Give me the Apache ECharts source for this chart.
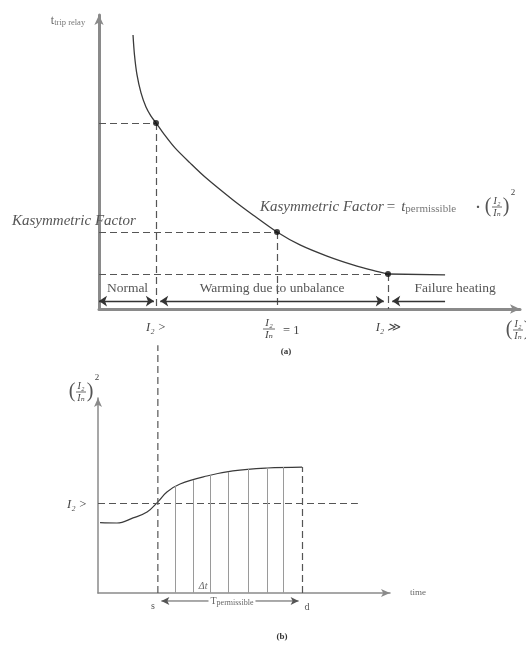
<!DOCTYPE html>
<html><head><meta charset="utf-8">
<script src="https://cdn.jsdelivr.net/npm/echarts@6/dist/echarts.min.js"></script>
<style>html,body{margin:0;padding:0;background:#fff}#c{width:526px;height:645px}</style>
</head><body><div id="c"></div><script>
// ---------- (a) trip time vs (I2/IN) ----------
const curveA = [[0.808,9.32],[0.843,8.64],[0.903,7.96],[0.998,7.35],[1.116,6.87],[1.235,6.56],[1.354,6.33],[1.544,5.95],[1.805,5.48],[2.162,4.97],[2.518,4.49],[3.183,3.71],[3.658,3.20],[4.228,2.62],[4.774,2.18],[5.416,1.80],[6.033,1.50],[6.508,1.31],[6.865,1.19]];
const tailA = [[6.865,1.19],[8.22,1.16]];
const dotsA = [[1.354,6.33],[4.228,2.62],[6.865,1.19]];
const zoneBounds = [0, 1.354, 6.865, 8.22];
const zoneNames = ['Normal', 'Warming due to unbalance', 'Failure heating'];
const tickLabelsA = ['I₂ >', 'I₂', 'Iₙ', '= 1', 'I₂ ≫'];
// ---------- (b) (I2/IN)^2 vs time ----------
const curveB = [[0.07,3.61],[0.65,3.59],[1.20,3.85],[1.68,4.15],[2.05,4.67],[2.36,5.18],[2.81,5.59],[3.73,6.00],[4.62,6.26],[5.79,6.41],[6.99,6.46]];
const hatchX = [2.64,3.25,3.84,4.45,5.14,5.79,6.34];
const hatchY = [5.49,5.79,6.05,6.21,6.36,6.41,6.46];
const thresholdB = 4.62;
const thresholdEndB = 8.9;
const startB = 2.05, endB = 6.99;
const sLineTopB = 12.7;
const tPermY = -0.41;

const AX = '#8a8a8a', INK = '#3a3a3a', TXT = '#444';
const SERIF = '"Liberation Serif","DejaVu Serif",serif';
const dashed = {type:[7,4], color:'#555', width:1.2};

const chart = echarts.init(document.getElementById('c'));

function axisX(gi, max, w, sym){ return {gridIndex:gi,type:'value',min:0,max:max,
  axisLine:{show:true,onZero:false,lineStyle:{color:AX,width:w},symbol:['none','arrow'],symbolSize:sym},
  axisTick:{show:false},axisLabel:{show:false},splitLine:{show:false}}; }

const guidesA = [];
dotsA.forEach(d => {
  guidesA.push([{coord:[0,d[1]]},{coord:[d[0],d[1]]}]);
  guidesA.push([{coord:[d[0],d[1]]},{coord:[d[0],0]}]);
});
const zoneY = 0.27;
const zoneLines = [
  [{coord:[zoneBounds[0],zoneY],symbol:'arrow'},{coord:[zoneBounds[1]-0.05,zoneY],symbol:'arrow'}],
  [{coord:[zoneBounds[1]+0.1,zoneY],symbol:'arrow'},{coord:[zoneBounds[2]-0.1,zoneY],symbol:'arrow'}],
  [{coord:[zoneBounds[2]+0.1,zoneY],symbol:'arrow'},{coord:[zoneBounds[3],zoneY],symbol:'none'}]
];

const guidesB = [
  [{coord:[0,thresholdB]},{coord:[thresholdEndB,thresholdB]}],
  [{coord:[endB,0]},{coord:[endB,curveB[curveB.length-1][1]]}]
];
const hatchLines = hatchX.map((x,i)=>[{coord:[x,0]},{coord:[x,hatchY[i]]}]);

chart.setOption({
  animation:false,
  grid:[{left:99,top:15,width:421,height:294},{left:98,top:398,width:292,height:195}],
  xAxis:[axisX(0,10,3,[7,10]), axisX(1,10,1.5,[6,9])],
  yAxis:[axisX(0,10,3,[7,10]), axisX(1,10,1.5,[6,9])],
  series:[
    {type:'line',xAxisIndex:0,yAxisIndex:0,data:curveA,smooth:0.3,showSymbol:false,lineStyle:{color:INK,width:1.3},silent:true},
    {type:'line',xAxisIndex:0,yAxisIndex:0,data:tailA,showSymbol:false,lineStyle:{color:INK,width:1.3},silent:true},
    {type:'scatter',xAxisIndex:0,yAxisIndex:0,data:dotsA,symbolSize:6,itemStyle:{color:'#111'},silent:true,z:5},
    {type:'line',xAxisIndex:0,yAxisIndex:0,data:[],silent:true,
      markLine:{silent:true,symbol:'none',label:{show:false},lineStyle:dashed,data:guidesA}},
    {type:'line',xAxisIndex:0,yAxisIndex:0,data:[],silent:true,
      markLine:{silent:true,symbolSize:8,label:{show:false},lineStyle:{type:'solid',color:'#333',width:1.3},data:zoneLines}},
    {type:'line',xAxisIndex:1,yAxisIndex:1,data:curveB,smooth:0.4,showSymbol:false,lineStyle:{color:INK,width:1.2},silent:true},
    {type:'line',xAxisIndex:1,yAxisIndex:1,data:[],silent:true,
      markLine:{silent:true,symbol:'none',label:{show:false},lineStyle:dashed,data:guidesB}},
    {type:'line',xAxisIndex:1,yAxisIndex:1,data:[[startB,0],[startB,sLineTopB]],silent:true,clip:false,
      showSymbol:false,lineStyle:dashed},
    {type:'line',xAxisIndex:1,yAxisIndex:1,data:[],silent:true,
      markLine:{silent:true,symbol:'none',label:{show:false},lineStyle:{type:'solid',color:'#9a9a9a',width:1},data:hatchLines}},
    {type:'line',xAxisIndex:1,yAxisIndex:1,silent:true,clip:false,showSymbol:true,symbol:'arrow',symbolSize:[6,8],
      itemStyle:{color:'#555'},lineStyle:{color:'#555',width:1},
      data:[{value:[startB+0.12,tPermY],symbolRotate:90},{value:[endB-0.12,tPermY],symbolRotate:-90}]}
  ]
});

const P = (g,x,y)=>chart.convertToPixel({gridIndex:g},[x,y]);
const G = [];
function txt(x,y,text,o){ G.push({type:'text',x:x,y:y,z:10,style:Object.assign({text:text,fill:TXT,font:'12px '+SERIF,align:'center',verticalAlign:'middle'},o||{})}); }
function line(x1,y1,x2,y2,c,w){ G.push({type:'line',shape:{x1,y1,x2,y2},style:{stroke:c||TXT,lineWidth:w||0.8}}); }
function frac(cx,cy,num,den,size,w){
  txt(cx,cy-size*0.55,num,{font:'italic '+size+'px '+SERIF});
  line(cx-w/2,cy,cx+w/2,cy,TXT,0.8);
  txt(cx,cy+size*0.6,den,{font:'italic '+size+'px '+SERIF});
}
function parenFrac(cx,cy,size,sup){
  txt(cx-9,cy,'(',{font:(size*2)+'px '+SERIF,fill:'#555'});
  frac(cx,cy,'I₂','Iₙ',size,10);
  txt(cx+9,cy,')',{font:(size*2)+'px '+SERIF,fill:'#555'});
  if(sup) txt(cx+16,cy-14,'2',{font:'9px '+SERIF});
}

// --- (a) texts
const yTop = P(0,0,10);
txt(yTop[0]-31, yTop[1]+6, '{t|t}{s|trip relay}', {rich:{t:{font:'12px '+SERIF,fill:'#666'},s:{font:'8.5px '+SERIF,fill:'#777',padding:[4,0,0,0]}}});
zoneNames.forEach((n,i)=>{
  const a=P(0,zoneBounds[i],0.71), b=P(0,zoneBounds[i+1],0.71);
  let cx=(a[0]+b[0])/2; if(i===2) cx=b[0]+10;
  txt(cx,a[1],n,{font:'13.5px '+SERIF,fill:'#555'});
});
let p=P(0,dotsA[0][0],0); txt(p[0],p[1]+19,tickLabelsA[0],{font:'italic 12.5px '+SERIF});
p=P(0,dotsA[1][0],0); frac(p[0]-8,p[1]+20,tickLabelsA[1],tickLabelsA[2],11,12); txt(p[0]+6,p[1]+22,tickLabelsA[3],{font:'12.5px '+SERIF,align:'left'});
p=P(0,dotsA[2][0],0); txt(p[0],p[1]+19,tickLabelsA[4],{font:'italic 12.5px '+SERIF});
p=P(0,10,0); parenFrac(p[0]-2,p[1]+21,10,false);
txt(286,352,'(a)',{font:'bold 9px '+SERIF,fill:'#333'});
p=P(0,0,dotsA[1][1]); txt(12,p[1]-11,'Kasymmetric Factor',{font:'italic 15px '+SERIF,align:'left',fill:'#555'});
txt(260,207,'{i|Kasymmetric Factor} {n|=}  {i|t}{s|permissible}',{align:'left',
  rich:{i:{font:'italic 15px '+SERIF,fill:'#555'},n:{font:'15px '+SERIF,fill:'#555'},s:{font:'11px '+SERIF,fill:'#777',padding:[5,0,0,0]}}});
txt(478,208,'·',{font:'bold 15px '+SERIF,fill:'#555'});
parenFrac(497,207,10,true);

// --- (b) texts
p=P(1,0,10); parenFrac(p[0]-17,p[1]-6,10,true);
p=P(1,0,thresholdB); txt(p[0]-21,p[1]+2,'I₂ >',{font:'italic 12.5px '+SERIF});
p=P(1,10,0); txt(p[0]+28,p[1],'time',{font:'9px '+SERIF,fill:'#666'});
p=P(1,3.6,0.36); txt(p[0],p[1],'Δt',{font:'italic 10px '+SERIF,fill:'#666'});
const a1=P(1,startB,tPermY), a2=P(1,endB,tPermY);
txt((a1[0]+a2[0])/2+2,a1[1],'{t|T}{s|permissible}',{backgroundColor:'#fff',padding:[0,2],
  rich:{t:{font:'10px '+SERIF,fill:'#666'},s:{font:'8px '+SERIF,fill:'#666',padding:[3,0,0,0]}}});
p=P(1,startB,0); txt(p[0]-5,p[1]+13,'s',{font:'10px '+SERIF,fill:'#555'});
p=P(1,endB,0); txt(p[0]+5,p[1]+14,'d',{font:'10px '+SERIF,fill:'#555'});
txt(282,637,'(b)',{font:'bold 9px '+SERIF,fill:'#333'});

chart.setOption({graphic:{elements:G}});
</script></body></html>
